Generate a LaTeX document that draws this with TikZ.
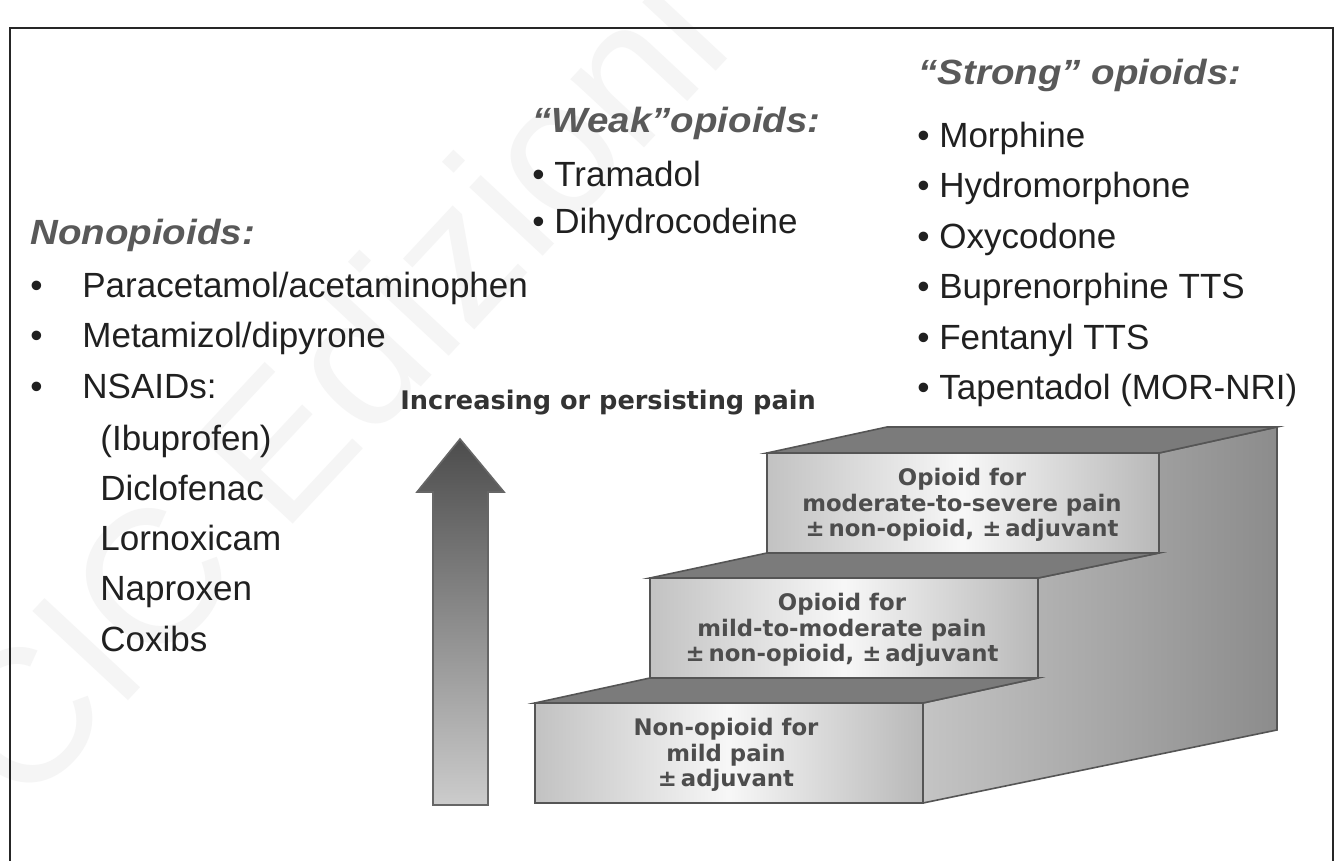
\documentclass[tikz,border=0pt]{standalone}
\usepackage{fontspec}
\usepackage{graphicx}
\setmainfont{Liberation Sans}
\newfontfamily\djb{DejaVu Sans}
\definecolor{edgec}{HTML}{555555}
\definecolor{topc}{HTML}{7B7B7B}
\definecolor{fgray}{HTML}{C2C2C2}
\definecolor{sidel}{HTML}{C4C4C4}
\definecolor{sider}{HTML}{8C8C8C}
\definecolor{hdrc}{HTML}{595959}
\definecolor{listc}{HTML}{202020}
\definecolor{stepc}{HTML}{4D4D4D}
\newcommand{\hxs}[1]{\scalebox{1.1}[1]{#1}}
\begin{document}
\begin{tikzpicture}[x=0.5pt,y=-0.5pt,
  hdr/.style={anchor=base west, inner sep=0pt, text=hdrc, font=\bfseries\itshape\fontsize{17.5}{20}\selectfont},
  item/.style={anchor=base west, inner sep=0pt, text=listc, font=\fontsize{17.5}{20}\selectfont},
  topface/.style={draw=edgec, line width=0.8pt, fill=topc},
  frontface/.style={draw=edgec, line width=0.8pt, left color=fgray, right color=fgray!95!black, middle color=white!97!black},
  sideface/.style={draw=edgec, line width=0.8pt, left color=sidel, right color=sider},
  steptext/.style={inner sep=0pt, align=center, text=stepc, font=\djb\bfseries\fontsize{11.4}{12.75}\selectfont},
  arrowbody/.style={draw=edgec!90, line width=0.8pt, top color=black!70, bottom color=black!20}
]
\useasboundingbox (0,0) rectangle (1335,861);
\fill[white] (0,0) rectangle (1335,861);
% watermark
\node[rotate=47, inner sep=0pt, text=black!4, font=\fontsize{95}{95}\selectfont] (wm) at (330,385) {CIC Edizioni};
% frame
\draw[line width=0.9pt, black!85] (10,861) -- (10,28) -- (1333,28) -- (1333,861);

% staircase
\path[sideface] (1159,453) -- (1277,427) -- (1277,730) -- (923,803) -- (923,703) -- (1038,678) -- (1038,578) -- (1159,553) -- cycle;
\path[topface] (767,453) -- (887,427) -- (1277,427) -- (1159,453) -- cycle;
\path[topface] (650,578) -- (767,553) -- (1159,553) -- (1038,578) -- cycle;
\path[topface] (535,703) -- (650,678) -- (1038,678) -- (923,703) -- cycle;
\path[frontface] (767,453) rectangle (1159,553);
\path[frontface] (650,578) rectangle (1038,678);
\path[frontface] (535,703) rectangle (923,803);
\node[steptext] (s3) at (962,505) {Opioid for\\moderate-to-severe pain\\±\,non-opioid, ±\,adjuvant};
\node[steptext] (s2) at (842,630) {Opioid for\\mild-to-moderate pain\\±\,non-opioid, ±\,adjuvant};
\node[steptext] (s1) at (726,755) {Non-opioid for\\mild pain\\±\,adjuvant};

% arrow
\path[arrowbody] (460,439) -- (504,492) -- (488,492) -- (488,805) -- (433,805) -- (433,492) -- (417,492) -- cycle;
\node[anchor=base west, inner sep=0pt, text=black!80, font=\djb\bfseries\fontsize{12.8}{15}\selectfont] (incr) at (400,410) {Increasing or persisting pain};

% Nonopioids
\node[hdr] (nonh) at (30,245) {\hxs{Nonopioids:}};
\node[item] (b1) at (30,298) {•};
\node[item] (n1) at (82,298) {Paracetamol/acetaminophen};
\node[item] (b2) at (30,348) {•};
\node[item] (n2) at (82,348) {Metamizol/dipyrone};
\node[item] (b3) at (30,399) {•};
\node[item] (n3) at (82,399) {NSAIDs:};
\node[item] (n4) at (100,451) {(Ibuprofen)};
\node[item] (n5) at (100,501) {Diclofenac};
\node[item] (n6) at (100,551) {Lornoxicam};
\node[item] (n7) at (100,601) {Naproxen};
\node[item] (n8) at (100,651) {Coxibs};

% Weak opioids
\node[hdr] (weakh) at (532,133) {\hxs{“Weak”opioids:}};
\node[item] (w1) at (532,187) {• Tramadol};
\node[item] (w2) at (532,234) {• Dihydrocodeine};

% Strong opioids
\node[hdr] (strongh) at (918,85) {\hxs{“Strong” opioids:}};
\node[item] (st1) at (917,148) {• Morphine};
\node[item] (st2) at (917,198) {• Hydromorphone};
\node[item] (st3) at (917,249) {• Oxycodone};
\node[item] (st4) at (917,299) {• Buprenorphine TTS};
\node[item] (st5) at (917,350) {• Fentanyl TTS};
\node[item] (st6) at (917,400) {• Tapentadol (MOR-NRI)};
\end{tikzpicture}
\end{document}
